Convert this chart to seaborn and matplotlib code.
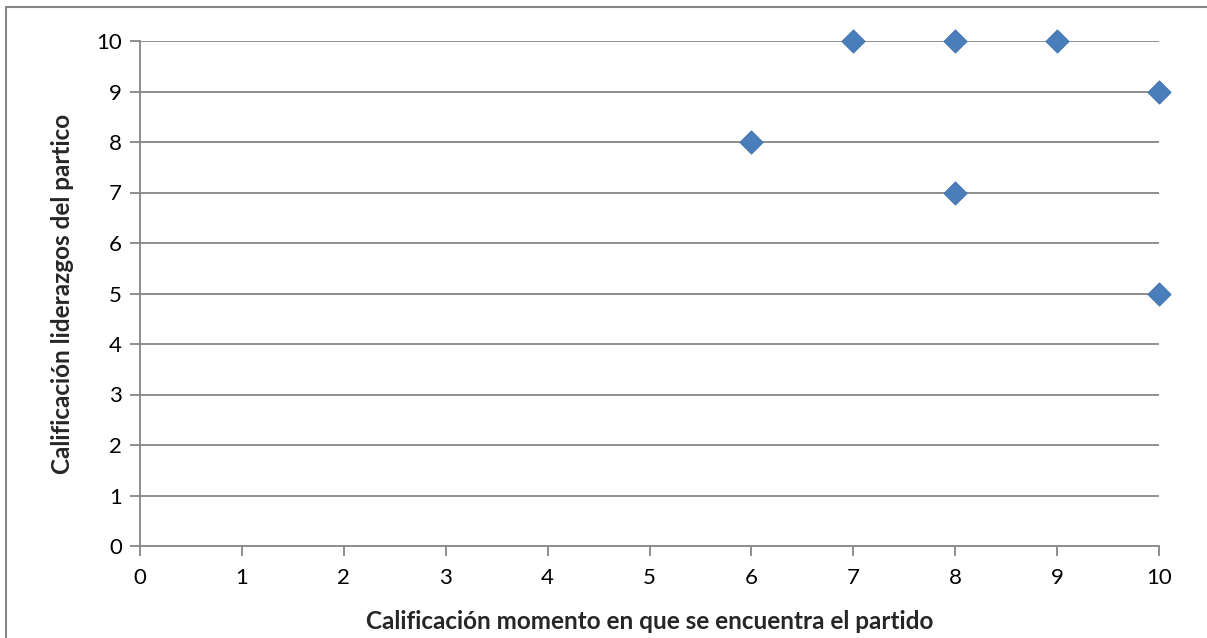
import pandas as pd
import numpy as np
import seaborn as sns
import matplotlib.pyplot as plt
from matplotlib.lines import Line2D

# datos
momento = [7, 8, 9, 10, 6, 8, 10]
liderazgo = [10, 10, 10, 9, 8, 7, 5]
ticks = list(range(0, 11))

df = pd.DataFrame({'momento': momento, 'liderazgo': liderazgo})

sns.set_style('white')
plt.rcParams['font.family'] = ['Lato', 'DejaVu Sans']

fig = plt.figure(figsize=(12.07, 6.38), dpi=100)
ax = fig.add_axes([140 / 1207, 1 - 546 / 638, (1159 - 140) / 1207, (546 - 41) / 638])

gris = '#868686'
for t in ticks[1:]:
    ax.axhline(t, color=gris, lw=1.3, zorder=1)

sns.scatterplot(data=df, x='momento', y='liderazgo', ax=ax, marker='D', s=140,
                color='#4A7EBB', edgecolor='#3C6FAE', linewidth=0.6, zorder=3, clip_on=False)

ax.set_xlim(0, 10)
ax.set_ylim(0, 10)
ax.set_xticks(ticks)
ax.set_yticks(ticks)
ax.tick_params(axis='both', labelsize=16, colors=gris, labelcolor='black', length=7, width=1.3,
               direction='out', pad=6)
ax.tick_params(axis='x', pad=9)
ax.xaxis.set_ticks_position('bottom')
ax.yaxis.set_ticks_position('left')

for lado in ['top', 'right']:
    ax.spines[lado].set_visible(False)
for lado in ['left', 'bottom']:
    ax.spines[lado].set_color(gris)
    ax.spines[lado].set_linewidth(1.3)

ax.set_xlabel('Calificación momento en que se encuentra el partido', fontsize=17.5, fontweight='bold', labelpad=16)
ax.set_ylabel('Calificación liderazgos del partico', fontsize=17.5, fontweight='bold', labelpad=16)

# marco del grafico
fig.add_artist(Line2D([6 / 1207, 6 / 1207], [0, 1 - 7 / 638], color=gris, lw=1.5))
fig.add_artist(Line2D([6 / 1207, 1], [1 - 7 / 638, 1 - 7 / 638], color=gris, lw=1.5))

plt.savefig('out.png', dpi=100)
